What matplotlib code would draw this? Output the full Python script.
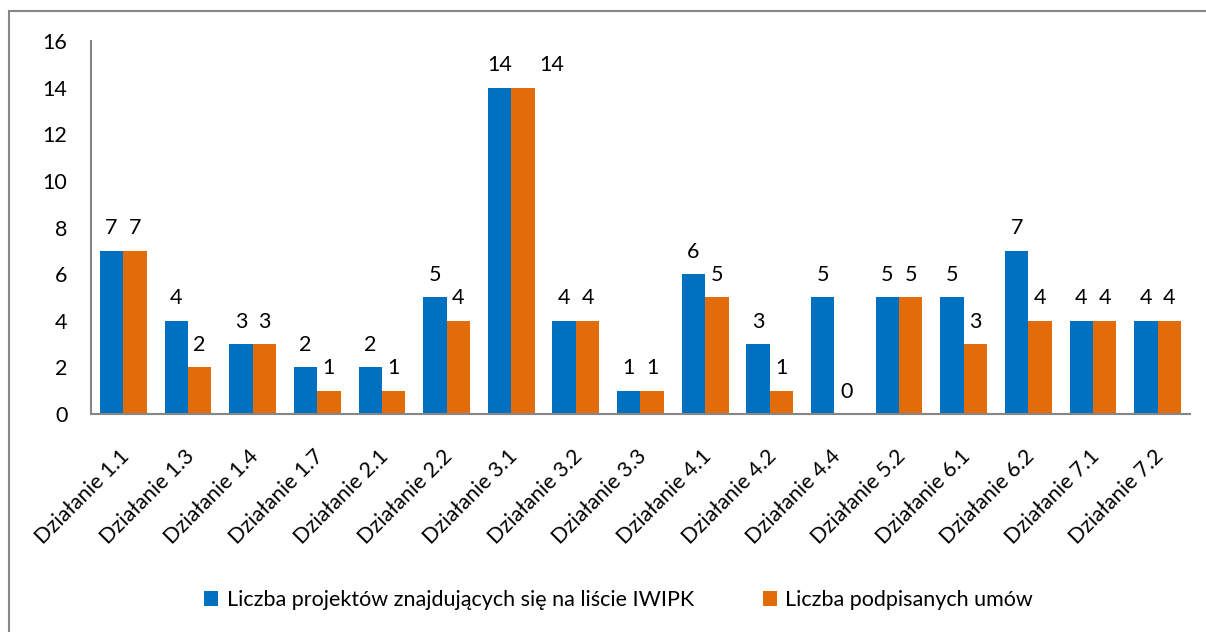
import numpy as np
import matplotlib.pyplot as plt
import matplotlib.transforms as mtransforms
from matplotlib.patches import Rectangle

plt.rcParams['font.family'] = ['Lato', 'DejaVu Sans']

# data
categories = ['Działanie 1.1', 'Działanie 1.3', 'Działanie 1.4', 'Działanie 1.7',
              'Działanie 2.1', 'Działanie 2.2', 'Działanie 3.1', 'Działanie 3.2',
              'Działanie 3.3', 'Działanie 4.1', 'Działanie 4.2', 'Działanie 4.4',
              'Działanie 5.2', 'Działanie 6.1', 'Działanie 6.2', 'Działanie 7.1',
              'Działanie 7.2']
iwipk = [7, 4, 3, 2, 2, 5, 14, 4, 1, 6, 3, 5, 5, 5, 7, 4, 4]
umowy = [7, 2, 3, 1, 1, 4, 14, 4, 1, 5, 1, 0, 5, 3, 4, 4, 4]
series_names = ['Liczba projektów znajdujących się na liście IWIPK',
                'Liczba podpisanych umów']

blue = '#0070C0'
orange = '#E36C0A'
fs = 15.5

fig = plt.figure(figsize=(12.06, 6.32), dpi=100)
ax = fig.add_axes([91/1206, 1-414/632, (1190-91)/1206, 373/632])

# outer chart frame (clipped on right and bottom like the source)
fig.patches.append(Rectangle((9/1206, -0.1), 1.2, 1 - 11/632 + 0.1,
                             transform=fig.transFigure, fill=False,
                             edgecolor='#868686', linewidth=1.5))

x = np.arange(len(categories))
w = 0.362
b1 = ax.bar(x - w/2, iwipk, w, color=blue, label=series_names[0])
b2 = ax.bar(x + w/2, umowy, w, color=orange, label=series_names[1])

for k, bars in enumerate((b1, b2)):
    for r in bars:
        h = r.get_height()
        # two-digit labels of the second series pushed right so they don't collide
        dx = 21 if (k == 1 and h >= 10) else 0
        ax.annotate(str(int(h)), (r.get_x() + r.get_width()/2, h),
                    xytext=(dx, 9), textcoords='offset points',
                    ha='center', va='bottom', fontsize=fs)

ax.set_xlim(-0.5, len(categories) - 0.5)
ax.set_ylim(0, 16)
ax.set_yticks(range(0, 17, 2))
ax.set_xticks(x)
ax.set_xticklabels(categories, rotation=45, ha='right', rotation_mode='anchor')
ax.tick_params(axis='both', length=0, labelsize=fs)
ax.tick_params(axis='y', pad=17)
ax.tick_params(axis='x', pad=23)
shift = mtransforms.ScaledTranslation(-4/100, 0, fig.dpi_scale_trans)
for lbl in ax.get_xticklabels():
    lbl.set_transform(lbl.get_transform() + shift)
for s in ['top', 'right']:
    ax.spines[s].set_visible(False)
for s in ['left', 'bottom']:
    ax.spines[s].set_color('#868686')
    ax.spines[s].set_linewidth(1.5)

fig.legend(handles=[b1, b2], loc='center', bbox_to_anchor=(0.513, 1-600/632),
           ncol=2, frameon=False, fontsize=fs, handlelength=0.65,
           handleheight=0.65, handletextpad=0.4, columnspacing=3.2)

fig.savefig('out.png', dpi=100)
